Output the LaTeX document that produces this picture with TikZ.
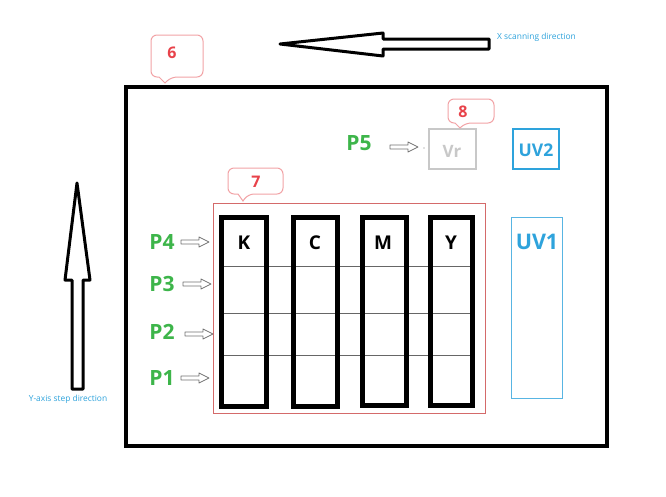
\documentclass[tikz,border=0pt]{standalone}
\usepackage{fontspec}
\setmainfont{Open Sans}
\definecolor{cred}{HTML}{E8424A}
\definecolor{cpink}{HTML}{F2A3A6}
\definecolor{cpanel}{HTML}{D46A6A}
\definecolor{cgreen}{HTML}{3DB54A}
\definecolor{cblue}{HTML}{2EA3DC}
\definecolor{cgray}{HTML}{C8C8C8}
\tikzset{
  callout/.style={draw=cpink, line width=1pt, fill=white},
  calltext/.style={text=cred, font=\bfseries\fontsize{16}{18}\selectfont, inner sep=0pt},
  plabel/.style={text=cgreen, font=\bfseries\fontsize{21}{24}\selectfont, inner sep=0pt},
  hollow/.style={draw=black!55, line width=0.8pt, fill=white, line join=round},
  bigarrow/.style={draw=black, line width=3pt, fill=white, line join=round},
  column/.style={draw=black, line width=5pt},
  colletter/.style={font=\bfseries\fontsize{19}{22}\selectfont, inner sep=0pt},
  dirtext/.style={text=cblue, font=\fontsize{8.4}{10}\selectfont, inner sep=0pt},
  pics/harrow/.style={code={\draw[hollow] (0,-2)--(18,-2)--(18,-5)--(28,0)--(18,5)--(18,2)--(0,2)--cycle;}}
}
\begin{document}
\begin{tikzpicture}[x=1pt,y=-1pt]
\useasboundingbox[fill=white] (0,0) rectangle (666,496);
% main frame
\draw[line width=4pt] (126,87) rectangle (607,446);
% callout 6
\draw[callout, rounded corners=6pt] (151,35) -- (203,35) -- (203,77) -- (171,77) [sharp corners]-- (165,83) -- (159,77) [rounded corners=6pt]-- (151,77) -- cycle;
\node[calltext] (n6) at (172,53) {6};
% X arrow
\draw[bigarrow] (280,44) -- (383,33) -- (383,39) -- (489,39) -- (489,49) -- (383,49) -- (383,56) -- cycle;
\node[dirtext, anchor=west] (xtext) at (497,37) {X scanning direction};
% Y arrow
\draw[bigarrow] (77,183) -- (90,280) -- (83,280) -- (83,389) -- (72,389) -- (72,280) -- (65,280) -- cycle;
\node[dirtext] (ytext) at (68,399) {Y-axis step direction};
% panel 7
\draw[draw=cpanel, line width=1pt] (213,203) rectangle (485,413);
\draw[callout, rounded corners=6pt] (228,168) -- (283,168) -- (283,194) -- (248,194) [sharp corners]-- (243,201) -- (238,194) [rounded corners=6pt]-- (228,194) -- cycle;
\node[calltext] (n7) at (256,182) {7};
% grid lines
\foreach \yy in {266,313,355} \draw[black!60, line width=0.6pt] (219,\yy) -- (474,\yy);
% columns
\draw[column] (221,217) rectangle (266,406);
\draw[column] (293,217) rectangle (337,406);
\draw[column] (362,217) rectangle (406,405);
\draw[column] (430,217) rectangle (472,405);
\node[colletter] (k) at (244,243) {K};
\node[colletter] (c) at (315,243) {C};
\node[colletter] (m) at (383,243) {M};
\node[colletter] (yy) at (451,243) {Y};
% P labels
\node[plabel] (p4) at (162,242) {P4};
\node[plabel] (p3) at (162,284) {P3};
\node[plabel] (p2) at (162,332) {P2};
\node[plabel] (p1) at (162,378) {P1};
\pic at (181,242) {harrow};
\pic at (183,284) {harrow};
\pic at (185,334) {harrow};
\pic at (181,378) {harrow};
% P5 and Vr
\node[plabel] (p5) at (359,143) {P5};
\pic at (390,147) {harrow};
\fill[black!50] (424,148) circle (0.7pt);
\draw[cgray, line width=2pt] (429,129) rectangle (476,169);
\node[text=cgray, font=\bfseries\fontsize{17}{20}\selectfont, inner sep=0pt] (vr) at (452,151) {Vr};
\draw[callout, rounded corners=6pt] (448,99) -- (494,99) -- (494,123) -- (465,123) [sharp corners]-- (460,128) -- (455,123) [rounded corners=6pt]-- (448,123) -- cycle;
\node[calltext] (n8) at (463,112) {8};
% UV2
\draw[cblue, line width=2.5pt] (513,129) rectangle (559,169);
\node[text=cblue, font=\bfseries\fontsize{17.5}{20}\selectfont, inner sep=0pt] (uv2) at (536,150) {UV2};
% UV1
\draw[cblue!80, line width=1pt] (511,217) rectangle (562,398);
\node[text=cblue, font=\bfseries\fontsize{21.5}{24}\selectfont, inner sep=0pt] (uv1) at (537,242) {UV1};
\end{tikzpicture}
\end{document}
